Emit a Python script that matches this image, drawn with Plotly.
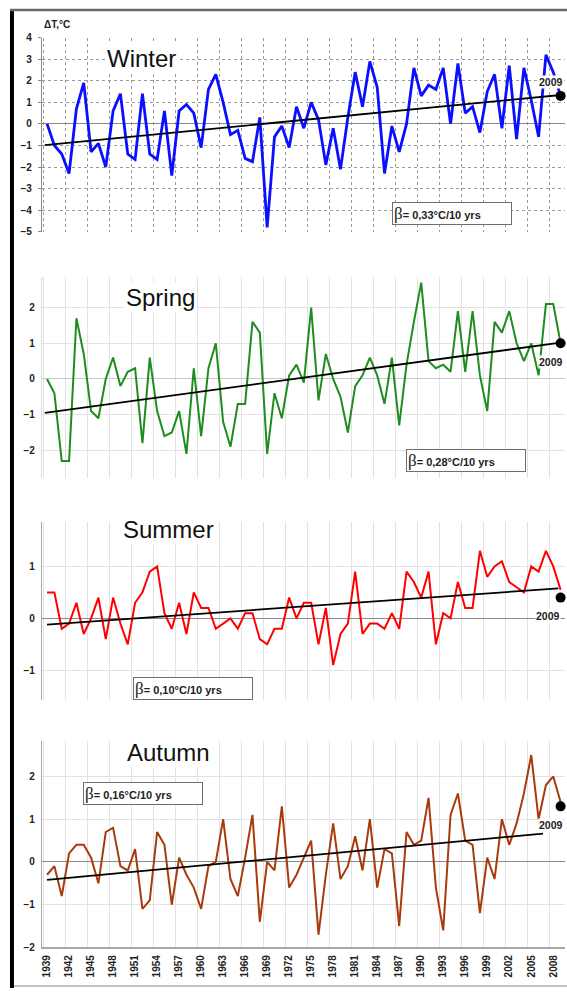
import plotly.graph_objects as go

W, H = 567, 993

years = list(range(1939, 2010))
xtick_years = list(range(1939, 2010, 3))

winter = [0.0, -1.0, -1.4, -2.3, 0.7, 1.9, -1.3, -0.9, -2.0, 0.6,
          1.4, -1.4, -1.65, 1.4, -1.4, -1.65, 0.6, -2.4, 0.6, 0.9,
          0.5, -1.1, 1.6, 2.3, 1.0, -0.5, -0.3, -1.6, -1.75, 0.3,
          -4.8, -0.6, -0.1, -1.1, 0.8, -0.2, 1.0, 0.2, -1.9, -0.2,
          -2.1, 0.3, 2.4, 0.8, 2.9, 1.7, -2.3, -0.1, -1.3, 0.0,
          2.6, 1.3, 1.8, 1.6, 2.6, 0.0, 2.8, 0.5, 0.8, -0.4,
          1.5, 2.3, -0.2, 2.7, -0.7, 2.6, 1.1, -0.6, 3.2, 2.4, 1.3]
spring = [0.0, -0.4, -2.3, -2.3, 1.7, 0.7, -0.9, -1.1, 0.0, 0.6,
          -0.2, 0.2, 0.3, -1.8, 0.6, -0.9, -1.6, -1.5, -0.9, -2.1,
          0.3, -1.6, 0.3, 1.0, -1.2, -1.9, -0.7, -0.7, 1.6, 1.3,
          -2.1, -0.4, -1.1, 0.1, 0.4, -0.1, 2.0, -0.6, 0.7, 0.0,
          -0.5, -1.5, -0.2, 0.1, 0.6, 0.1, -0.7, 0.6, -1.3, 0.4,
          1.6, 2.7, 0.5, 0.3, 0.4, 0.2, 1.9, 0.2, 1.9, 0.1,
          -0.9, 1.6, 1.3, 1.9, 1.0, 0.5, 1.0, 0.1, 2.1, 2.1, 1.0]
summer = [0.5, 0.5, -0.2, -0.1, 0.3, -0.3, 0.0, 0.4, -0.4, 0.4,
          -0.1, -0.5, 0.3, 0.5, 0.9, 1.0, 0.1, -0.2, 0.3, -0.3,
          0.5, 0.2, 0.2, -0.2, -0.1, 0.0, -0.2, 0.1, 0.1, -0.4,
          -0.5, -0.2, -0.2, 0.4, 0.0, 0.3, 0.3, -0.5, 0.2, -0.9,
          -0.3, -0.1, 0.9, -0.3, -0.1, -0.1, -0.2, 0.1, -0.2, 0.9,
          0.7, 0.4, 0.9, -0.5, 0.1, 0.0, 0.7, 0.2, 0.2, 1.3,
          0.8, 1.0, 1.1, 0.7, 0.6, 0.5, 1.0, 0.9, 1.3, 1.0, 0.55]
autumn = [-0.3, -0.1, -0.8, 0.2, 0.4, 0.4, 0.1, -0.5, 0.7, 0.8,
          -0.1, -0.2, 0.3, -1.1, -0.9, 0.7, 0.4, -1.0, 0.1, -0.3,
          -0.6, -1.1, -0.1, 0.0, 1.0, -0.4, -0.8, 0.1, 1.1, -1.4,
          0.0, -0.2, 1.3, -0.6, -0.3, 0.1, 0.5, -1.7, -0.3, 0.9,
          -0.4, -0.1, 0.6, -0.2, 1.0, -0.6, 0.3, 0.2, -1.5, 0.7,
          0.4, 0.5, 1.5, -0.6, -1.6, 1.1, 1.6, 0.5, 0.4, -1.2,
          0.1, -0.4, 1.0, 0.4, 0.9, 1.6, 2.5, 1.0, 1.8, 2.0, 1.4]

season_names = ["Winter", "Spring", "Summer", "Autumn"]
series = [winter, spring, summer, autumn]
dot_2009 = [1.3, 1.0, 0.4, 1.3]
beta = [0.33, 0.28, 0.10, 0.16]
beta_labels = ["0,33", "0,28", "0,10", "0,16"]
trend_start = [-0.98, -0.95, -0.12, -0.42]
trend_x0 = [1938.7, 1938.7, 1939.0, 1939.0]
trend_x1 = [2009.0, 2009.0, 2008.7, 2006.6]
y_ticks = [list(range(-5, 5)), [-2, -1, 0, 1, 2], [-1, 0, 1], [-2, -1, 0, 1, 2]]

# ---- layout constants (pixels) ----
colors = ["#0a10ff", "#1e8c1e", "#ff0000", "#a83a0c"]
widths = [2.8, 2.0, 2.0, 2.0]
dom_px = [(229, 33), (478, 275), (702, 522), (952, 743)]
yranges = [[-5, 4], [-2.78, 2.85], [-1.57, 1.86], [-2, 2.84]]
title_px = [(141, 54), (160, 295), (168, 530), (168, 755)]
box_px = [(452, 211), (466, 460), (192, 690), (142, 797)]
lab_shift = [(-10, 14), (-10, -19), (-13, -18), (-10, -19)]
FONT = "Liberation Sans, Arial, sans-serif"

def px(x):
    return x / W

def py(y):
    return 1 - y / H

fig = go.Figure()
layout = dict(width=W, height=H, margin=dict(l=0, r=0, t=0, b=0),
              paper_bgcolor="white", plot_bgcolor="white", showlegend=False,
              font=dict(family=FONT, color="#222"))
annotations = []
shapes = []

for i in range(4):
    sfx = "" if i == 0 else str(i + 1)
    xname, yname = "x" + sfx, "y" + sfx
    winter_style = (i == 0)
    gcol = "#9a9a9a" if winter_style else "#e2e2e2"
    gdash = "dot" if winter_style else "solid"
    layout["xaxis" + sfx] = dict(
        domain=[px(41), px(565)], range=[1938.3, 2009.6], anchor=yname,
        tickmode="linear", tick0=1939, dtick=3, showgrid=False,
        showticklabels=(i == 3), tickangle=-90, ticks="",
        tickfont=dict(size=10, family=FONT, color="#222", weight="bold"),
        ticklabelstandoff=2, zeroline=False,
        showline=(i == 3), linecolor="#a8a8a8", linewidth=1.5,
        minor=dict(tick0=1938.5, dtick=3, showgrid=True, gridcolor=gcol,
                   griddash=gdash, gridwidth=1, ticks=""),
    )
    lo, hi = dom_px[i]
    layout["yaxis" + sfx] = dict(
        domain=[py(lo), py(hi)], range=yranges[i], anchor=xname,
        tickmode="array", tickvals=y_ticks[i], showgrid=True,
        gridcolor=gcol, griddash=gdash, gridwidth=1,
        zeroline=True, zerolinecolor="#8a8a8a" if i != 1 else "#c8c8c8",
        zerolinewidth=1.3,
        showline=True, linecolor="#8a8a8a" if winter_style else ("#dcdcdc" if i == 1 else "#a8a8a8"),
        linewidth=1.2, ticks="outside" if winter_style else "", ticklen=3,
        tickcolor="#8a8a8a",
        tickfont=dict(size=10, family=FONT, color="#222", weight="bold"),
        ticklabelstandoff=4,
    )
    fig.add_trace(go.Scatter(x=years, y=series[i], mode="lines", xaxis=xname, yaxis=yname,
                             line=dict(color=colors[i], width=widths[i]), hoverinfo="skip"))
    tx = [trend_x0[i], trend_x1[i]]
    ty = [trend_start[i] + beta[i] / 10 * (t - trend_x0[i]) for t in tx]
    fig.add_trace(go.Scatter(x=tx, y=ty, mode="lines", xaxis=xname, yaxis=yname,
                             line=dict(color="black", width=1.8), hoverinfo="skip"))
    fig.add_trace(go.Scatter(x=[years[-1]], y=[dot_2009[i]], mode="markers", xaxis=xname, yaxis=yname,
                             marker=dict(color="black", size=10), cliponaxis=False, hoverinfo="skip"))
    annotations.append(dict(x=years[-1], y=dot_2009[i], xref=xname, yref=yname,
                            xanchor="center", yanchor="middle",
                            text="<b>2009</b>", showarrow=False, xshift=lab_shift[i][0],
                            yshift=lab_shift[i][1], bgcolor="white",
                            font=dict(size=10.5, family=FONT, color="#222"), borderpad=0))
    tx_, ty_ = title_px[i]
    annotations.append(dict(x=px(tx_), y=py(ty_), xref="paper", yref="paper",
                            xanchor="center", yanchor="middle",
                            text=season_names[i], showarrow=False, bgcolor="white",
                            font=dict(size=24, family=FONT, color="#111"), borderpad=1))
    bx, by = box_px[i]
    annotations.append(dict(
        x=px(bx), y=py(by), xref="paper", yref="paper", showarrow=False,
        xanchor="center", yanchor="middle",
        text=("<span style='font-family:Liberation Serif, serif; font-size:17px'>β</span>"
              "<b>= " + beta_labels[i] + "°C/10 yrs</b>"),
        width=116, height=19, align="left", valign="middle",
        bordercolor="#6e6e6e", borderwidth=1, borderpad=1, bgcolor="white",
        font=dict(size=11, family=FONT, color="#222")))

annotations.append(dict(x=px(41), y=py(20), xref="paper", yref="paper",
                        xanchor="left", yanchor="middle",
                        text="<b>ΔT,°C</b>", showarrow=False,
                        font=dict(size=10, family=FONT, color="#222")))

shapes.append(dict(type="rect", xref="paper", yref="paper", x0=px(9), x1=px(13),
                   y0=0, y1=py(4), fillcolor="black", line=dict(width=0)))
shapes.append(dict(type="line", xref="paper", yref="paper", x0=px(9), x1=1,
                   y0=py(5), y1=py(5), line=dict(color="#6a6a6a", width=2.5)))
shapes.append(dict(type="line", xref="paper", yref="paper", x0=px(13), x1=1,
                   y0=py(991), y1=py(991), line=dict(color="#b0b0b0", width=1.5)))

layout["annotations"] = annotations
layout["shapes"] = shapes
fig.update_layout(**layout)
fig.write_html("out.html", config={"displayModeBar": False},
               post_script="document.body.style.margin='0';document.body.style.overflow='hidden';")
